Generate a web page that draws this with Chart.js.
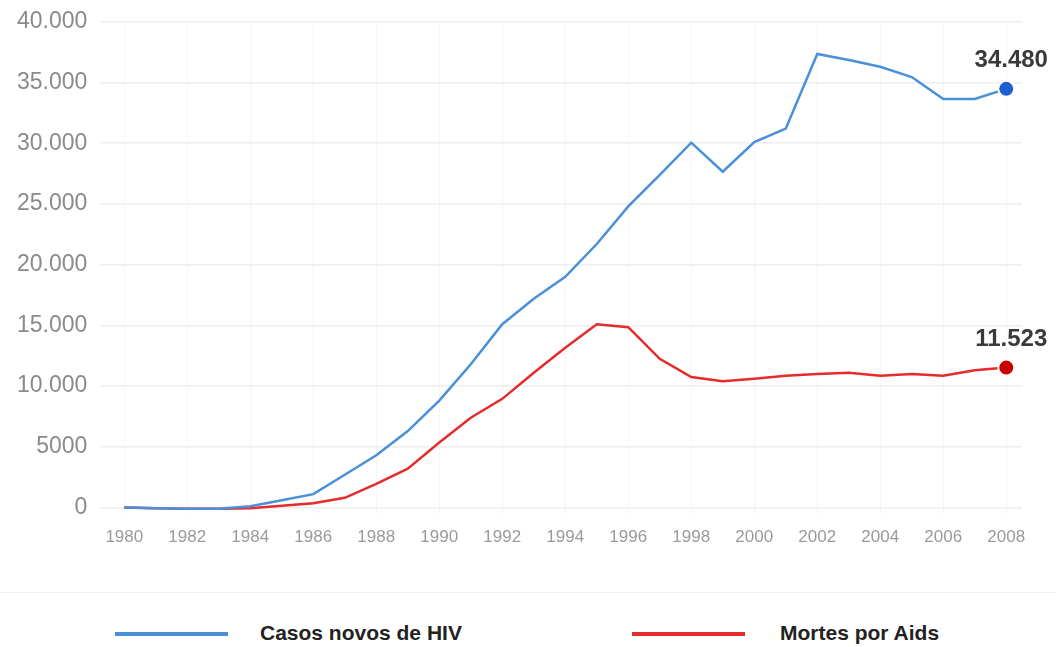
<!DOCTYPE html>
<html>
<head>
<meta charset="utf-8">
<script src="https://cdn.jsdelivr.net/npm/chart.js@4.4.1/dist/chart.umd.min.js"></script>
<style>
  body { margin: 0; background: #fff; overflow: hidden; }
  #wrap { position: relative; width: 1056px; height: 647px; overflow: hidden; }
  #chartBox { position: absolute; left: 0; top: -5px; width: 1056px; height: 575px; }
  #sep { position: absolute; left: 0; top: 592px; width: 1056px; height: 1px; background: #f0f0f0; }
  .leg { position: absolute; top: 621px; font-family: "Liberation Sans", Arial, sans-serif; font-weight: bold; font-size: 21px; color: #222; }
  .leg span.ln { position: absolute; top: 11px; width: 113px; height: 4px; }
</style>
</head>
<body>
<div id="wrap">
  <div id="chartBox"><canvas id="aidsChart"></canvas></div>
  <div id="sep"></div>
  <div class="leg" style="left:115px;"><span class="ln" style="left:0;background:#4a8fda;"></span><span style="position:absolute;left:145px;white-space:nowrap;">Casos novos de HIV</span></div>
  <div class="leg" style="left:632px;"><span class="ln" style="left:0;background:#e52b2b;"></span><span style="position:absolute;left:148px;white-space:nowrap;">Mortes por Aids</span></div>
</div>
<script>
let years = [1980,1981,1982,1983,1984,1985,1986,1987,1988,1989,1990,1991,1992,1993,1994,1995,1996,1997,1998,1999,2000,2001,2002,2003,2004,2005,2006,2007,2008];
let hivCases = [0,-50,-100,-100,100,600,1100,2700,4300,6300,8800,11800,15100,17200,19000,21700,24800,27400,30050,27650,30100,31200,37350,36850,36300,35450,33650,33650,34480];
let aidsDeaths = [0,-50,-100,-100,-50,150,350,800,1950,3200,5350,7400,8950,11100,13150,15100,14850,12250,10750,10400,10600,10850,11000,11100,10850,11000,10850,11300,11523];
let yTicks = [0,5000,10000,15000,20000,25000,30000,35000,40000];
let xTicks = [1980,1982,1984,1986,1988,1990,1992,1994,1996,1998,2000,2002,2004,2006,2008];

function fmt(v){
    if (v < 10000) return String(v);
    let s = String(v);
    return s.slice(0, s.length-3) + '.' + s.slice(s.length-3);
}

function toPoints(vals){
    let pts = [];
    for (let i = 0; i < years.length; i++){
        pts.push({x: years[i], y: vals[i]});
    }
    return pts;
}

function lastOnly(size){
    return function(ctx){
        return ctx.dataIndex == years.length-1 ? size : 0;
    };
}

// value label above the last point of each line
const endLabels = {
    id: 'endLabels',
    afterDatasetsDraw(chart){
        let ctx = chart.ctx;
        ctx.save();
        ctx.font = 'bold 24px "Liberation Sans", Arial, sans-serif';
        ctx.fillStyle = '#3a3a3a';
        ctx.textAlign = 'center';
        ctx.textBaseline = 'alphabetic';
        chart.data.datasets.forEach(function(ds, i){
            let meta = chart.getDatasetMeta(i);
            let pt = meta.data[meta.data.length-1];
            let v = ds.data[ds.data.length-1].y;
            ctx.fillText(fmt(v), pt.x + 5, pt.y - 22);
        });
        ctx.restore();
    }
};

let cx = document.getElementById('aidsChart').getContext('2d');
let aidsChart = new Chart(cx, {
    type: 'line',
    data: {
        datasets: [{
            label: 'Casos novos de HIV',
            data: toPoints(hivCases),
            borderColor: '#4a8fda',
            borderWidth: 2.5,
            pointRadius: lastOnly(8),
            pointBackgroundColor: '#1d5fd0',
            pointBorderColor: '#ffffff',
            pointBorderWidth: 2,
            tension: 0
        }, {
            label: 'Mortes por Aids',
            data: toPoints(aidsDeaths),
            borderColor: '#e52b2b',
            borderWidth: 2.5,
            pointRadius: lastOnly(8),
            pointBackgroundColor: '#c80000',
            pointBorderColor: '#ffffff',
            pointBorderWidth: 2,
            tension: 0
        }]
    },
    options: {
        responsive: true,
        maintainAspectRatio: false,
        animation: false,
        events: [],
        layout: { padding: { top: 1, right: 34, bottom: 8, left: 4 } },
        plugins: { legend: { display: false }, tooltip: { enabled: false } },
        scales: {
            x: {
                type: 'linear',
                min: 1979.24,
                max: 2008.5,
                afterBuildTicks: function(axis){ axis.ticks = xTicks.map(function(v){ return {value: v}; }); },
                grid: { color: '#f5f5f5', lineWidth: 1, drawTicks: false },
                border: { display: false },
                ticks: {
                    padding: 14,
                    color: '#9a9a9a',
                    font: { family: '"Liberation Sans", Arial', size: 17 },
                    callback: function(v){ return String(v); },
                    maxRotation: 0
                }
            },
            y: {
                min: -500,
                max: 40000,
                afterBuildTicks: function(axis){ axis.ticks = yTicks.map(function(v){ return {value: v}; }); },
                grid: { color: '#eeeeee', lineWidth: 1.5, drawTicks: false },
                border: { display: false },
                ticks: {
                    padding: 13,
                    color: '#8a8a8a',
                    font: { family: '"Liberation Sans", Arial', size: 23 },
                    callback: function(v){ return fmt(v); }
                }
            }
        }
    },
    plugins: [endLabels]
});
</script>
</body>
</html>
